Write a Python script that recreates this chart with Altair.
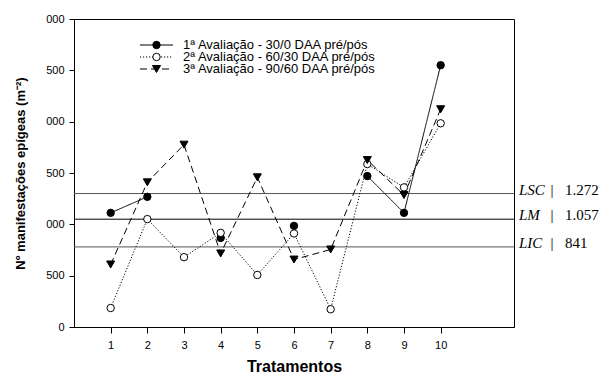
import altair as alt
import pandas as pd

# ---- data ----
tratamentos = [1, 2, 3, 4, 5, 6, 7, 8, 9, 10]
aval_1 = [1112, 1268, None, 868, None, 985, None, 1470, 1112, 2550]
aval_2 = [185, 1051, 680, 917, 507, 911, 173, 1587, 1360, 1984]
aval_3 = [609, 1409, 1776, 716, 1458, 657, 755, 1626, 1285, 2121]
series_names = [
    "1ª Avaliação - 30/0 DAA pré/pós",
    "2ª Avaliação - 60/30 DAA pré/pós",
    "3ª Avaliação - 90/60 DAA  pré/pós",
]
limit_names = ["LSC", "LM", "LIC"]
limit_labels = ["1.272", "1.057", "841"]
limit_lines = [1300, 1050, 780]
y_ticks = [0, 500, 1000, 1500, 2000, 2500, 3000]
x_ticks = tratamentos

# ---- build tables ----
rows = []
for name, vals in zip(series_names, [aval_1, aval_2, aval_3]):
    seg = 0
    for t, v in zip(tratamentos, vals):
        if v is None:
            seg += 1
            continue
        rows.append({"serie": name, "trat": t, "valor": v, "seg": seg})
df = pd.DataFrame(rows)
df_lim = pd.DataFrame({"nome": limit_names, "rotulo": limit_labels, "valor": limit_lines})
df_leg = pd.DataFrame({"serie": series_names})

X = alt.X("trat:Q", scale=alt.Scale(domain=[0, 12], nice=False),
          axis=alt.Axis(values=x_ticks, title="Tratamentos", grid=False,
                        tickSize=6, labelPadding=6, titleFontSize=16,
                        titleFontWeight="bold", titlePadding=8))
Y = alt.Y("valor:Q", scale=alt.Scale(domain=[0, 3000], nice=False),
          axis=alt.Axis(values=y_ticks, title="Nº manifestações epígeas (m⁻²)", grid=False,
                        tickSize=5, labelPadding=5, titleFontSize=13,
                        titleFontWeight="bold", titlePadding=18,
                        labelExpr="datum.value == 0 ? '0' : (datum.value % 1000 == 0 ? '000' : '500')"))
Y_plain = alt.Y("valor:Q", scale=alt.Scale(domain=[0, 3000], nice=False))

styles = [
    dict(dash=[1, 0], shape="circle", fill="black", size=55),
    dict(dash=[1.2, 1.8], shape="circle", fill="white", size=55),
    dict(dash=[7, 4], shape="triangle-down", fill="black", size=65),
]

layers = []

# reference lines
layers.append(
    alt.Chart(df_lim).mark_rule(strokeWidth=1).encode(
        y=Y,
        color=alt.condition(alt.datum.nome == "LM", alt.value("black"), alt.value("#555555")),
    )
)

for name, st in zip(series_names, styles):
    base = alt.Chart(df).transform_filter(alt.datum.serie == name)
    layers.append(
        base.mark_line(color="black", strokeWidth=1, strokeDash=st["dash"]).encode(
            x=X, y=Y_plain, detail="seg:N")
    )
for name, st in zip(series_names, styles):
    base = alt.Chart(df).transform_filter(alt.datum.serie == name)
    layers.append(
        base.mark_point(shape=st["shape"], filled=True, fill=st["fill"], stroke="black",
                        strokeWidth=1, size=st["size"], opacity=1).encode(x=X, y=Y_plain)
    )

# manual legend
for i, (name, st) in enumerate(zip(series_names, styles)):
    yy = 26 + 12 * i
    lb = alt.Chart(df_leg).transform_filter(alt.datum.serie == name)
    layers.append(lb.mark_rule(color="black", strokeWidth=1, strokeDash=st["dash"]).encode(
        x=alt.value(66), x2=alt.value(99), y=alt.value(yy)))
    layers.append(lb.mark_point(shape=st["shape"], filled=True, fill=st["fill"], stroke="black",
                                strokeWidth=1, size=st["size"], opacity=1).encode(
        x=alt.value(82.5), y=alt.value(yy)))
    layers.append(lb.mark_text(align="left", baseline="middle", fontSize=13,
                               font="Liberation Sans", color="black").encode(
        x=alt.value(109), y=alt.value(yy), text="serie:N"))

# limit labels
layers.append(alt.Chart(df_lim).mark_text(align="left", baseline="middle", dy=-4, fontSize=15,
                                          font="Liberation Serif", fontStyle="italic",
                                          color="black").encode(
    x=alt.value(445), y=Y_plain, text="nome:N"))
layers.append(alt.Chart(df_lim).mark_text(align="center", baseline="middle", dy=-4, fontSize=15,
                                          font="Liberation Serif", fill="black",
                                          color="black").encode(
    x=alt.value(478), y=Y_plain, text=alt.value("|")))
layers.append(alt.Chart(df_lim).mark_text(align="left", baseline="middle", dy=-4, fontSize=15,
                                          font="Liberation Serif", color="black").encode(
    x=alt.value(491), y=Y_plain, text="rotulo:N"))

chart = alt.layer(*layers).properties(
    width=440, height=308,
    autosize=alt.AutoSizeParams(type="none"),
    padding={"left": 74, "top": 19, "right": 88, "bottom": 49},
    background="white",
).configure_view(stroke="black", strokeWidth=1).configure_axis(
    domainColor="black", tickColor="black", labelColor="black", titleColor="black",
    labelFont="Liberation Sans", titleFont="Liberation Sans", labelFontSize=11,
    domainWidth=1, tickWidth=1,
)

chart.save("out.html", embed_options={"renderer": "svg", "actions": False})
